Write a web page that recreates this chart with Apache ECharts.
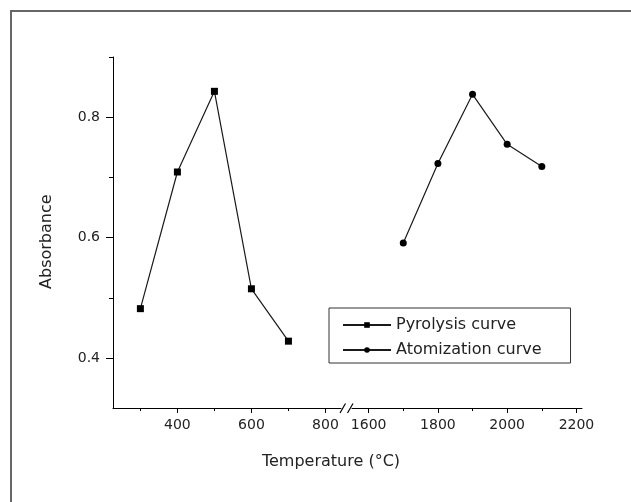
<!DOCTYPE html>
<html><head><meta charset="utf-8">
<script src="https://cdn.jsdelivr.net/npm/echarts@6/dist/echarts.min.js"></script>
<style>html,body{margin:0;padding:0;background:#fff}#c{width:631px;height:502px}</style>
</head><body><div id="c"></div>
<script>
const pyroTemps = [300, 400, 500, 600, 700];
const pyroAbs = [0.482, 0.709, 0.843, 0.515, 0.428];
const atomTemps = [1700, 1800, 1900, 2000, 2100];
const atomAbs = [0.591, 0.723, 0.838, 0.755, 0.718];
const leftMajorTicks = [400, 600, 800];
const leftMinorTicks = [300, 500, 700];
const rightMajorTicks = [1600, 1800, 2000, 2200];
const rightMinorTicks = [1700, 1900, 2100];
const yMajorTicks = [0.4, 0.6, 0.8];
const yMinorTicks = [0.5, 0.7, 0.9];
const seriesNames = ['Pyrolysis curve', 'Atomization curve'];

const FONT = 'DejaVu Sans';
const Y_MIN = 0.317, Y_MAX = 0.9;

function majorX(grid, min, max, ticks) {
  return {
    type: 'value', gridIndex: grid, min: min, max: max,
    axisLine: {show: true, onZero: false, lineStyle: {color: '#000', width: 1}},
    axisTick: {show: true, customValues: ticks, length: 5, lineStyle: {color: '#000', width: 1}},
    axisLabel: {show: true, customValues: ticks, margin: 10, color: '#222', fontSize: 14, fontFamily: FONT,
      formatter: v => String(v)},
    splitLine: {show: false}
  };
}
function minorX(grid, min, max, ticks) {
  return {
    type: 'value', gridIndex: grid, min: min, max: max, position: 'bottom',
    axisLine: {show: false, onZero: false},
    axisTick: {show: true, customValues: ticks, length: 3, lineStyle: {color: '#000', width: 1}},
    axisLabel: {show: false},
    splitLine: {show: false}
  };
}

const chart = echarts.init(document.getElementById('c'), null, {renderer: 'canvas'});
chart.setOption({
  animation: false,
  backgroundColor: '#fff',
  grid: [
    {left: 113, top: 57, width: 228, height: 351},
    {left: 352, top: 57, width: 230, height: 351}
  ],
  xAxis: [
    majorX(0, 226, 842, leftMajorTicks),
    majorX(1, 1552, 2216, rightMajorTicks),
    minorX(0, 226, 842, leftMinorTicks),
    minorX(1, 1552, 2216, rightMinorTicks)
  ],
  yAxis: [
    {
      type: 'value', gridIndex: 0, min: Y_MIN, max: Y_MAX,
      axisLine: {show: true, onZero: false, lineStyle: {color: '#000', width: 1}},
      axisTick: {show: true, customValues: yMajorTicks, length: 7, lineStyle: {color: '#000'}},
      axisLabel: {show: true, customValues: yMajorTicks, margin: 13, color: '#222', fontSize: 14, fontFamily: FONT,
        formatter: v => v.toFixed(1)},
      splitLine: {show: false}
    },
    {type: 'value', gridIndex: 1, min: Y_MIN, max: Y_MAX, show: false},
    {
      type: 'value', gridIndex: 0, min: Y_MIN, max: Y_MAX, position: 'left',
      axisLine: {show: false, onZero: false},
      axisTick: {show: true, customValues: yMinorTicks, length: 4, lineStyle: {color: '#000'}},
      axisLabel: {show: false},
      splitLine: {show: false}
    }
  ],
  legend: {
    left: 329, top: 308, orient: 'vertical',
    padding: [9, 29, 5, 13], itemWidth: 48, itemHeight: 7, itemGap: 9,
    borderColor: '#333', borderWidth: 1, backgroundColor: '#fff',
    textStyle: {fontFamily: FONT, fontSize: 16, lineHeight: 16, color: '#222'},
    data: seriesNames
  },
  series: [
    {
      name: seriesNames[0], type: 'line', xAxisIndex: 0, yAxisIndex: 0,
      data: pyroTemps.map((t, i) => [t, pyroAbs[i]]),
      symbol: 'rect', symbolSize: 7,
      lineStyle: {color: '#1a1a1a', width: 1.2}, itemStyle: {color: '#000'}
    },
    {
      name: seriesNames[1], type: 'line', xAxisIndex: 1, yAxisIndex: 1,
      data: atomTemps.map((t, i) => [t, atomAbs[i]]),
      symbol: 'circle', symbolSize: 7,
      lineStyle: {color: '#1a1a1a', width: 1.2}, itemStyle: {color: '#000'}
    }
  ],
  graphic: [
    {type: 'rect', silent: true, z: -10, shape: {x: 11, y: 11, width: 660, height: 540},
      style: {fill: 'none', stroke: '#666', lineWidth: 2}},
    {type: 'line', silent: true, shape: {x1: 340, y1: 413, x2: 345.5, y2: 403.5}, style: {stroke: '#000', lineWidth: 1.2}},
    {type: 'line', silent: true, shape: {x1: 347.5, y1: 413, x2: 353, y2: 403.5}, style: {stroke: '#000', lineWidth: 1.2}},
    {type: 'text', silent: true, x: 46.7, y: 241.7, rotation: Math.PI / 2,
      style: {text: 'Absorbance', fontFamily: FONT, fontSize: 16, fill: '#222', align: 'center', verticalAlign: 'middle'}},
    {type: 'text', silent: true, x: 331, y: 461.7,
      style: {text: 'Temperature (°C)', fontFamily: FONT, fontSize: 16, fill: '#222', align: 'center', verticalAlign: 'middle'}}
  ]
});
</script>
</body></html>
